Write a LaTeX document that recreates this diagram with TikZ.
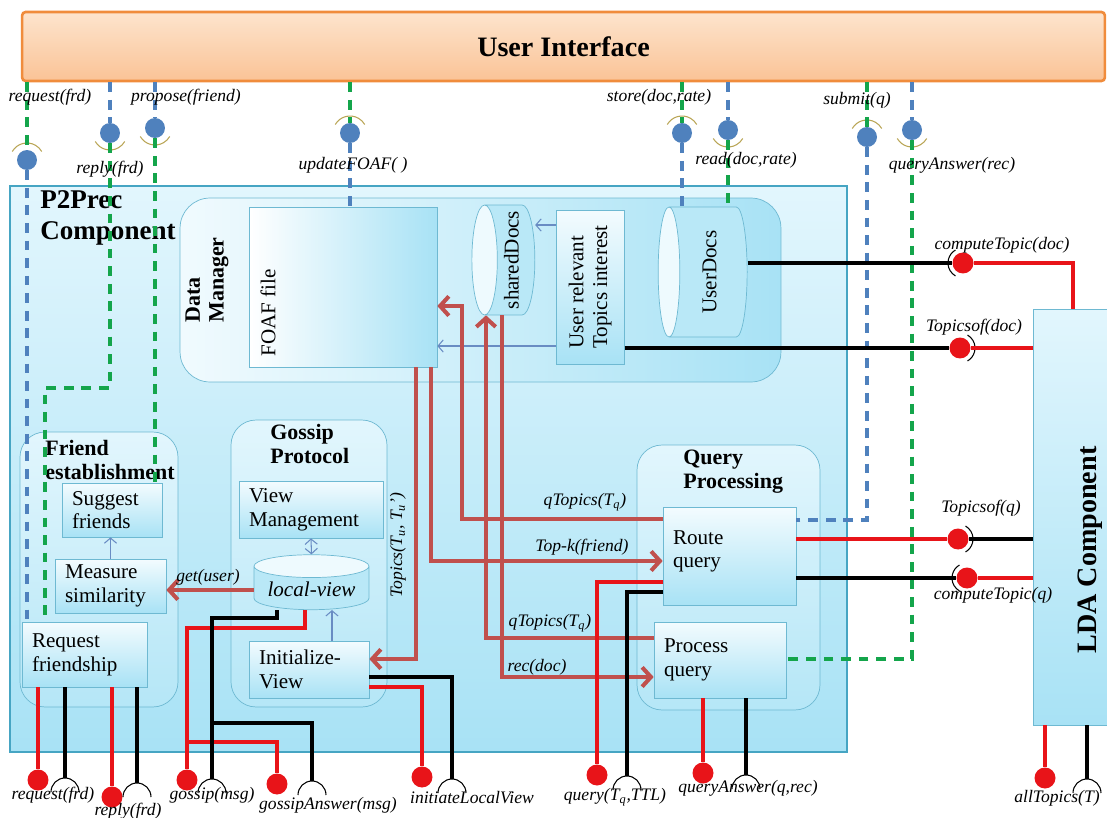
\documentclass[tikz,border=0pt]{standalone}
\usepackage{fontspec}
\setmainfont{Liberation Serif}
\usetikzlibrary{shapes.geometric,arrows.meta}
\definecolor{uiline}{RGB}{240,140,60}
\definecolor{uitop}{RGB}{253,228,205}
\definecolor{uibot}{RGB}{250,195,150}
\definecolor{cyanlt}{RGB}{226,246,253}
\definecolor{cyanmd}{RGB}{168,226,245}
\definecolor{tealbd}{RGB}{70,165,195}
\definecolor{thinbd}{RGB}{110,185,210}
\definecolor{brick}{RGB}{192,80,77}
\definecolor{ifblue}{RGB}{79,129,189}
\definecolor{ifgreen}{RGB}{20,165,75}
\definecolor{wirered}{RGB}{232,20,25}
\definecolor{sockol}{RGB}{185,165,85}
\definecolor{thinarr}{RGB}{105,140,195}
\newcommand{\Tq}{T\textsubscript{q}}
% socket arcs
\newcommand{\capup}[1]{\draw[sock] ([shift={(150:0.34cm)}]#1.center) arc[start angle=150,end angle=30,radius=0.34cm];}
\newcommand{\capdn}[1]{\draw[sock] ([shift={(210:0.34cm)}]#1.center) arc[start angle=210,end angle=330,radius=0.34cm];}
\newcommand{\capbot}[1]{\draw[sockk] ([shift={(-0.28cm,-0.28cm)}]#1) arc[start angle=180,end angle=0,radius=0.28cm];}
\newcommand{\capleft}[1]{\draw[sockk] ([shift={(120:0.3cm)}]#1.center) arc[start angle=120,end angle=240,radius=0.3cm];}
\newcommand{\capright}[1]{\draw[sockk] ([shift={(-60:0.3cm)}]#1.center) arc[start angle=-60,end angle=60,radius=0.3cm];}
\begin{document}
\begin{tikzpicture}[x=0.02cm, y=-0.02cm,
  every node/.style={font=\fontsize{12}{13.5}\selectfont},
  lbl/.style={font=\fontsize{10}{11}\selectfont\itshape, inner sep=1pt},
  hdr/.style={font=\fontsize{12.5}{13.6}\selectfont\bfseries, align=left, inner sep=0pt},
  ttl/.style={font=\fontsize{16}{18}\selectfont\bfseries, align=left, inner sep=0pt},
  box/.style={draw=thinbd, top color=cyanlt!40!white, bottom color=cyanmd, align=left, inner xsep=0.2cm, inner ysep=2pt},
  grp/.style={draw=thinbd, rounded corners=0.5cm, top color=cyanlt, bottom color=cyanmd!85},
  db/.style={cylinder, draw=thinbd, aspect=0.25, inner sep=1pt, cylinder uses custom fill, cylinder end fill=cyanlt!60!white, cylinder body fill=cyanmd!80},
  bball/.style={circle, fill=ifblue, inner sep=0pt, minimum size=0.4cm},
  rball/.style={circle, fill=wirered, inner sep=0pt, minimum size=0.42cm},
  dgrn/.style={ifgreen, line width=1.9pt, dash pattern=on 5.5pt off 4.5pt},
  dblu/.style={ifblue, line width=1.9pt, dash pattern=on 5.5pt off 4.5pt},
  wr/.style={wirered, line width=2.1pt},
  wk/.style={black, line width=2.1pt},
  rarr/.style={brick, line width=2.3pt, -{Straight Barb[length=5pt,width=11pt]}},
  tarr/.style={thinarr, line width=0.6pt, >={Straight Barb[length=3pt,width=7pt]}},
  sock/.style={sockol, line width=0.6pt},
  sockk/.style={black, line width=0.6pt}]
\useasboundingbox (0,0) rectangle (1107,818);
% user interface
\node[draw=uiline, line width=1.5pt, top color=uitop, bottom color=uibot, rounded corners=2pt, minimum width=21.66cm, minimum height=1.38cm, font=\fontsize{16}{18}\selectfont\bfseries] (ui) at (563.5,46.5) {User Interface};
% P2Prec component
\node[draw=tealbd, line width=1.6pt, top color=cyanlt, bottom color=cyanmd, minimum width=16.74cm, minimum height=11.32cm] (p2p) at (428.5,469) {};
\node[ttl, font=\fontsize{15.4}{18}\selectfont\bfseries, anchor=north west] (p2pt) at (40,190) {P2Prec\\Component};
% data manager
\node[draw=thinbd, rounded corners=0.6cm, left color=cyanlt!50!white, right color=cyanmd, minimum width=12.02cm, minimum height=3.68cm] (dm) at (480.5,290) {};
\node[hdr, rotate=90] (dmt) at (207,280) {Data\\Manager};
\node[draw=thinbd, left color=white, right color=cyanmd, minimum width=3.76cm, minimum height=3.2cm] (foaf) at (343,287) {};
\node[rotate=90] (foaft) at (268,313) {FOAF file};
\node[db, shape border rotate=180, minimum height=1.26cm, minimum width=2.2cm] (shared) at (511.5,260) {\rotatebox{90}{sharedDocs}};
\node[box, minimum width=1.26cm, minimum height=3.08cm] (urel) at (590.5,287) {\rotatebox{90}{\begin{tabular}{@{}l@{}}User relevant\\Topics interest\end{tabular}}};
\node[db, shape border rotate=180, minimum height=1.78cm, minimum width=2.6cm] (udocs) at (709.5,272) {\rotatebox{90}{UserDocs}};
% friend establishment
\node[grp, minimum width=3.16cm, minimum height=5.5cm] (fe) at (99,569.5) {};
\node[hdr, anchor=north west] (fet) at (45,440) {Friend\\establishment};
\node[box, minimum width=2cm, minimum height=1.08cm, text width=1.6cm] (sugg) at (112,510) {Suggest\\friends};
\node[box, minimum width=2.22cm, minimum height=1.08cm, text width=1.82cm] (meas) at (110.5,586) {Measure\\similarity};
\node[box, minimum width=2.5cm, minimum height=1.3cm, text width=2.1cm] (reqf) at (84.5,654.5) {Request\\friendship};
% gossip protocol
\node[grp, minimum width=3.12cm, minimum height=5.74cm] (gp) at (309,563.5) {};
\node[hdr, anchor=north west] (gpt) at (270,424) {Gossip\\Protocol};
\node[box, minimum width=2.88cm, minimum height=1.14cm, text width=2.48cm] (vm) at (311,509.5) {View\\Management};
\node[db, shape border rotate=90, minimum width=2.3cm, minimum height=1.1cm] (lview) at (311.5,589.5) {\itshape local-view};
\node[box, minimum width=2.4cm, minimum height=1.14cm, text width=2.0cm] (initv) at (309,669.5) {Initialize-\\View};
% query processing
\node[grp, minimum width=3.66cm, minimum height=5.3cm] (qp) at (728.5,577.5) {};
\node[hdr, anchor=north west] (qpt) at (683,450) {Query\\Processing};
\node[box, minimum width=2.66cm, minimum height=1.96cm, text width=2.26cm, text depth=0.75cm] (route) at (729.5,556) {Route\\query};
\node[box, minimum width=2.64cm, minimum height=1.52cm, text width=2.24cm] (proc) at (720,660) {Process\\query};
% LDA component
\node[draw=thinbd, top color=cyanlt, bottom color=cyanmd, minimum width=1.64cm, minimum height=8.32cm] (lda) at (1074,517) {};
\node[ttl, rotate=90] (ldat) at (1090,550) {LDA Component};
% internal arrows
\draw[tarr, ->] (meas.north) -- (meas.north |- sugg.south);
\draw[tarr, <->] (vm.south) -- (lview.north);
\draw[tarr, ->] (initv.north -| 332,0) -- (lview.south -| 332,0);
\draw[tarr, ->] (urel.west |- 0,225) -- (shared.east |- 0,225);
\draw[tarr, ->] (urel.west |- 0,346) -- (foaf.east |- 0,346);
\draw[rarr] (route.west |- 0,519) -| (462,306) -- (foaf.east |- 0,306);
\draw[rarr] (foaf.south -| 431,0) |- (route.west |- 0,561);
\draw[rarr] (foaf.south -| 416,0) |- (initv.east |- 0,659);
\draw[rarr] (proc.west |- 0,638) -| (shared.south -| 486,0);
\draw[rarr] (shared.south -| 502,0) |- (proc.west |- 0,677);
\draw[rarr] (lview.west |- 0,590) -- (meas.east |- 0,590);
\node[lbl] (lqT1) at (585,502) {qTopics(\Tq)};
\node[lbl] (lTopk) at (582,547) {Top-k(friend)};
\node[lbl] (lqT2) at (550,623) {qTopics(\Tq)};
\node[lbl] (lRec) at (537,667) {rec(doc)};
\node[lbl] (lGet) at (208,577) {get(user)};
\node[lbl, rotate=90] (lTop) at (398,545) {Topics(T\textsubscript{u}, T\textsubscript{u}')};
% user interface ports
\node[bball] (bReqT) at (27,160) {}; \capup{bReqT}
\node[bball] (bRepT) at (110,133) {}; \capdn{bRepT}
\node[bball] (bProT) at (155,128) {}; \capdn{bProT}
\node[bball] (bFoaf) at (350,133) {}; \capup{bFoaf}
\node[bball] (bStore) at (682,133) {}; \capup{bStore}
\node[bball] (bRead) at (728,130) {}; \capdn{bRead}
\node[bball] (bSub) at (867,137) {}; \capup{bSub}
\node[bball] (bQAr) at (912,130) {}; \capdn{bQAr}
\draw[dgrn] (ui.south -| bReqT) -- (bReqT); \draw[dblu] (bReqT) -- (reqf.north -| bReqT);
\draw[dblu] (ui.south -| bRepT) -- (bRepT); \draw[dgrn] (bRepT) |- (45,388) -- (reqf.north -| 45,0);
\draw[dblu] (ui.south -| bProT) -- (bProT); \draw[dgrn] (bProT) -- (sugg.north -| bProT);
\draw[dgrn] (ui.south -| bFoaf) -- (bFoaf); \draw[dblu] (bFoaf) -- (foaf.north -| bFoaf);
\draw[dgrn] (ui.south -| bStore) -- (bStore); \draw[dblu] (bStore) -- (udocs.north -| bStore);
\draw[dblu] (ui.south -| bRead) -- (bRead); \draw[dgrn] (bRead) -- (udocs.north -| bRead);
\draw[dgrn] (ui.south -| bSub) -- (bSub); \draw[dblu] (bSub) |- (route.east |- 0,520);
\draw[dblu] (ui.south -| bQAr) -- (bQAr); \draw[dgrn] (bQAr) |- (proc.east |- 0,659);
\node[lbl] (lReqT) at (50,97) {request(frd)};
\node[lbl] (lProT) at (186,97) {propose(friend)};
\node[lbl] (lRepT) at (110,169) {reply(frd)};
\node[lbl] (lFoaf) at (353,165) {updateFOAF( )};
\node[lbl] (lStore) at (659,97) {store(doc,rate)};
\node[lbl] (lRead) at (746,160) {read(doc,rate)};
\node[lbl] (lSub) at (857,100) {submit(q)};
\node[lbl] (lQAr) at (952,165) {queryAnswer(rec)};
% LDA ports
\node[rball] (bCTd) at (963,263) {}; \capleft{bCTd}
\draw[wk] (udocs.east |- bCTd) -- (bCTd); \draw[wr] (bCTd) -| (lda.north -| 1073,0);
\node[rball] (bTOd) at (960,348) {}; \capright{bTOd}
\draw[wk] (urel.east |- bTOd) -- (bTOd); \draw[wr] (bTOd) -- (lda.west |- bTOd);
\node[rball] (bTOq) at (958,539) {}; \capright{bTOq}
\draw[wr] (route.east |- bTOq) -- (bTOq); \draw[wk] (bTOq) -- (lda.west |- bTOq);
\node[rball] (bCTq) at (967,578) {}; \capleft{bCTq}
\draw[wk] (route.east |- bCTq) -- (bCTq); \draw[wr] (bCTq) -- (lda.west |- bCTq);
\node[rball] (bAll) at (1045,778) {}; \coordinate (sAll) at (1087,779); \capbot{sAll}
\draw[wr] (lda.south -| bAll) -- (bAll); \draw[wk] (lda.south -| sAll) -- (sAll);
\node[lbl] (lCTd) at (1002,245) {computeTopic(doc)};
\node[lbl] (lTOd) at (974,327) {Topicsof(doc)};
\node[lbl] (lTOq) at (981,508) {Topicsof(q)};
\node[lbl] (lCTq) at (993,595) {computeTopic(q)};
\node[lbl] (lAll) at (1057,798) {allTopics(T)};
% bottom ports
\node[rball] (bReqB) at (38,780) {}; \coordinate (sReqB) at (65,778); \capbot{sReqB}
\draw[wr] (reqf.south -| bReqB) -- (bReqB); \draw[wk] (reqf.south -| sReqB) -- (sReqB);
\node[rball] (bRepB) at (112,797) {}; \coordinate (sRepB) at (137,783); \capbot{sRepB}
\draw[wr] (reqf.south -| bRepB) -- (bRepB); \draw[wk] (reqf.south -| sRepB) -- (sRepB);
\node[rball] (bGos) at (187,780) {}; \coordinate (sGos) at (212,779); \capbot{sGos}
\node[rball] (bGosA) at (277,784) {}; \coordinate (sGosA) at (312,781); \capbot{sGosA}
\draw[wr] (lview.south -| 305,0) |- (187,628) -- (bGos); \draw[wr] (187,742) -| (bGosA);
\draw[wk] (lview.south -| 277,0) |- (212,618) -- (sGos); \draw[wk] (212,723) -| (sGosA);
\node[rball] (bIni) at (422,777) {}; \coordinate (sIni) at (452,779); \capbot{sIni}
\draw[wr] (initv.east |- 0,687) -| (bIni); \draw[wk] (initv.east |- 0,677) -| (sIni);
\node[rball] (bQry) at (597,775) {}; \coordinate (sQry) at (627,776); \capbot{sQry}
\draw[wr] (route.west |- 0,582) -| (bQry); \draw[wk] (route.west |- 0,592) -| (sQry);
\node[rball] (bQAn) at (703,773) {}; \coordinate (sQAn) at (746,775); \capbot{sQAn}
\draw[wr] (proc.south -| bQAn) -- (bQAn); \draw[wk] (proc.south -| sQAn) -- (sQAn);
\node[lbl] (lReqB) at (53,795) {request(frd)};
\node[lbl] (lRepB) at (128,811) {reply(frd)};
\node[lbl] (lGos) at (212,795) {gossip(msg)};
\node[lbl] (lGosA) at (328,805) {gossipAnswer(msg)};
\node[lbl] (lIni) at (472,798) {initiateLocalView};
\node[lbl] (lQry) at (615,797) {query(\Tq,TTL)};
\node[lbl] (lQAn) at (748,788) {queryAnswer(q,rec)};
\end{tikzpicture}
\end{document}
